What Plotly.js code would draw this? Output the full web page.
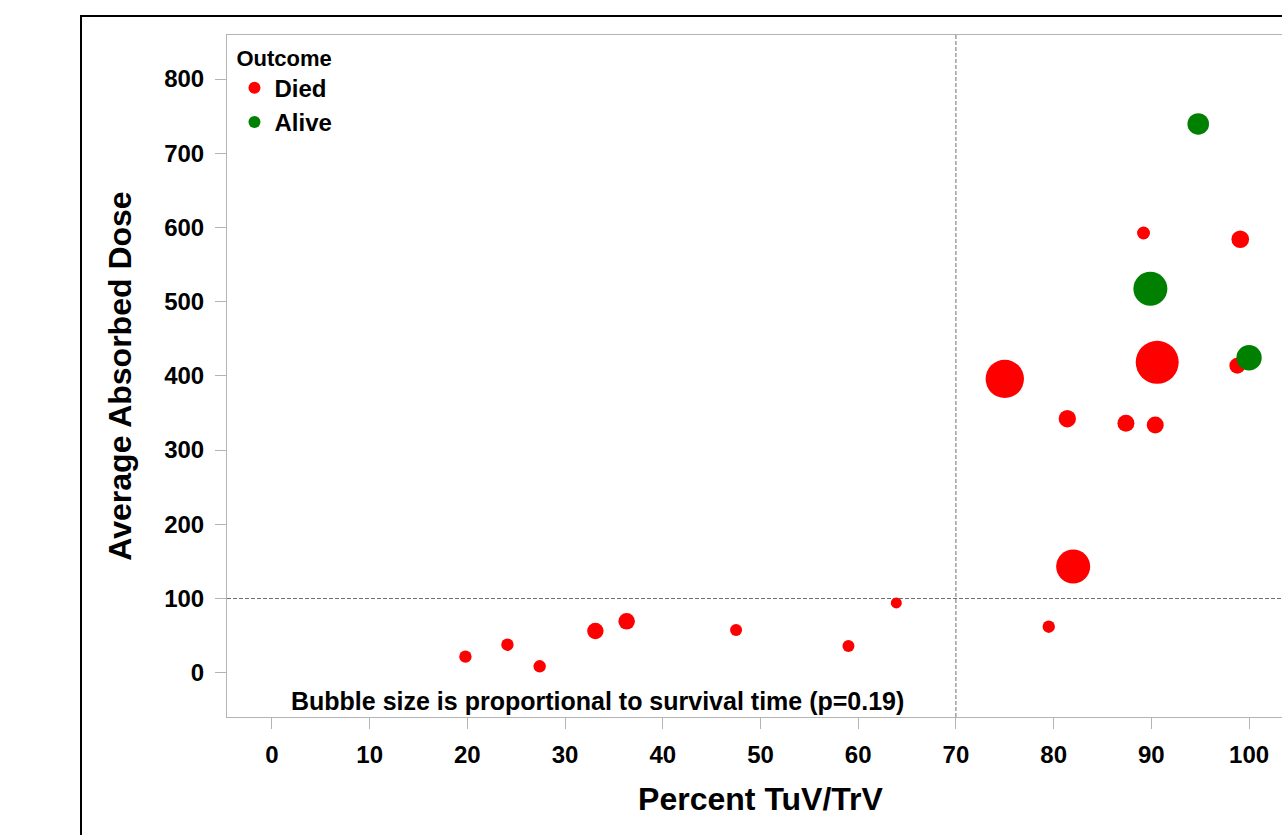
<!DOCTYPE html>
<html>
<head>
<meta charset="utf-8">
<script src="https://cdn.plot.ly/plotly-3.0.1.min.js"></script>
<style>
  html, body { margin: 0; padding: 0; overflow: hidden; background: #fff; width: 1282px; height: 835px; }
  #frame { position: absolute; left: 80px; top: 15px; width: 1400px; height: 1000px; border: 2px solid #000; box-sizing: border-box; pointer-events: none; z-index: 2; }
  #chart { position: absolute; left: 0; top: 0; width: 1320px; height: 835px; }
</style>
</head>
<body>
<div id="chart"></div>
<div id="frame"></div>
<script>
// Died patients
const diedTuV      = [19.8, 24.1, 27.4, 33.1, 36.3, 47.5, 59.0, 63.9, 79.5, 82.0, 75.0, 81.4, 87.4, 90.4, 90.6, 98.8, 89.2, 99.1];
const diedDose     = [21.6, 37.7, 8.6, 56.2, 69.3, 57.5, 36.0, 94.0, 62.0, 143.0, 396.0, 342.3, 336.1, 333.8, 418.3, 413.7, 592.6, 584.1];
const diedSurvival = [3.2, 3.2, 3.2, 5.6, 5.7, 3.0, 3.0, 2.5, 3.2, 24.1, 30.7, 6.3, 6.0, 6.0, 38.5, 5.3, 3.5, 6.5];
// Alive patients
const aliveTuV      = [100.0, 89.9, 94.8];
const aliveDose     = [424.5, 517.5, 739.5];
const aliveSurvival = [13.4, 24.1, 9.7];

const xTicks = [0, 10, 20, 30, 40, 50, 60, 70, 80, 90, 100];
const yTicks = [0, 100, 200, 300, 400, 500, 600, 700, 800];
const refX = 70;
const refY = 100;

const FONT = 'Arial, "Liberation Sans", "DejaVu Sans", sans-serif';
const SIZEREF = 1 / 24;

const traces = [
  {
    type: 'scatter', mode: 'markers', name: '<b>Died</b>',
    x: diedTuV, y: diedDose,
    marker: { color: '#ff0000', opacity: 1, size: diedSurvival, sizemode: 'area', sizeref: SIZEREF, line: { width: 0 } },
    hoverinfo: 'x+y'
  },
  {
    type: 'scatter', mode: 'markers', name: '<b>Alive</b>',
    x: aliveTuV, y: aliveDose,
    marker: { color: '#008000', opacity: 1, size: aliveSurvival, sizemode: 'area', sizeref: SIZEREF, line: { width: 0 } },
    hoverinfo: 'x+y'
  }
];

const layout = {
  width: 1320, height: 835,
  margin: { l: 227, r: 26, t: 35, b: 118 },
  paper_bgcolor: 'rgba(0,0,0,0)',
  plot_bgcolor: '#ffffff',
  font: { family: FONT, color: '#000', size: 22 },
  showlegend: true,
  legend: {
    x: 0.007, y: 0.997, xanchor: 'left', yanchor: 'top',
    bgcolor: 'rgba(255,255,255,0)', borderwidth: 0,
    itemsizing: 'constant',
    title: { text: '<b>Outcome</b>', font: { family: FONT, size: 22, color: '#000' } },
    font: { family: FONT, size: 24, color: '#000' }
  },
  xaxis: {
    range: [-4.6, 104.6],
    tickmode: 'array', tickvals: xTicks, ticktext: xTicks.map(v => '<b>' + v + '</b>'),
    ticks: 'outside', ticklen: 11, tickcolor: '#b4b4b4', tickwidth: 1,
    ticklabelstandoff: 5,
    tickfont: { family: FONT, size: 24, color: '#000' },
    showgrid: false, zeroline: false,
    showline: true, linecolor: '#b4b4b4', linewidth: 1, mirror: true,
    title: { text: '<b>Percent TuV/TrV</b>', font: { family: FONT, size: 32, color: '#000' }, standoff: 20 }
  },
  yaxis: {
    range: [-59.7, 859.4],
    tickmode: 'array', tickvals: yTicks, ticktext: yTicks.map(v => '<b>' + v + '</b>'),
    ticks: 'outside', ticklen: 11, tickcolor: '#b4b4b4', tickwidth: 1,
    ticklabelstandoff: 6,
    tickfont: { family: FONT, size: 24, color: '#000' },
    showgrid: false, zeroline: false,
    showline: true, linecolor: '#b4b4b4', linewidth: 1, mirror: true,
    title: { text: '<b>Average Absorbed Dose</b>', font: { family: FONT, size: 32, color: '#000' }, standoff: 22 }
  },
  shapes: [
    { type: 'line', xref: 'x', yref: 'paper', x0: refX, x1: refX, y0: 0, y1: 1,
      line: { color: '#707070', width: 1, dash: '4px,2px' }, layer: 'below' },
    { type: 'line', xref: 'paper', yref: 'y', x0: 0, x1: 1, y0: refY, y1: refY,
      line: { color: '#707070', width: 1, dash: '4px,2px' }, layer: 'below' }
  ],
  annotations: [
    { xref: 'paper', yref: 'y', x: 0.058, y: -38, xanchor: 'left', yanchor: 'middle',
      text: '<b>Bubble size is proportional to survival time (p=0.19)</b>', showarrow: false,
      font: { family: FONT, size: 25, color: '#000' } }
  ]
};

Plotly.newPlot('chart', traces, layout, { displayModeBar: false, responsive: false });
</script>
</body>
</html>
